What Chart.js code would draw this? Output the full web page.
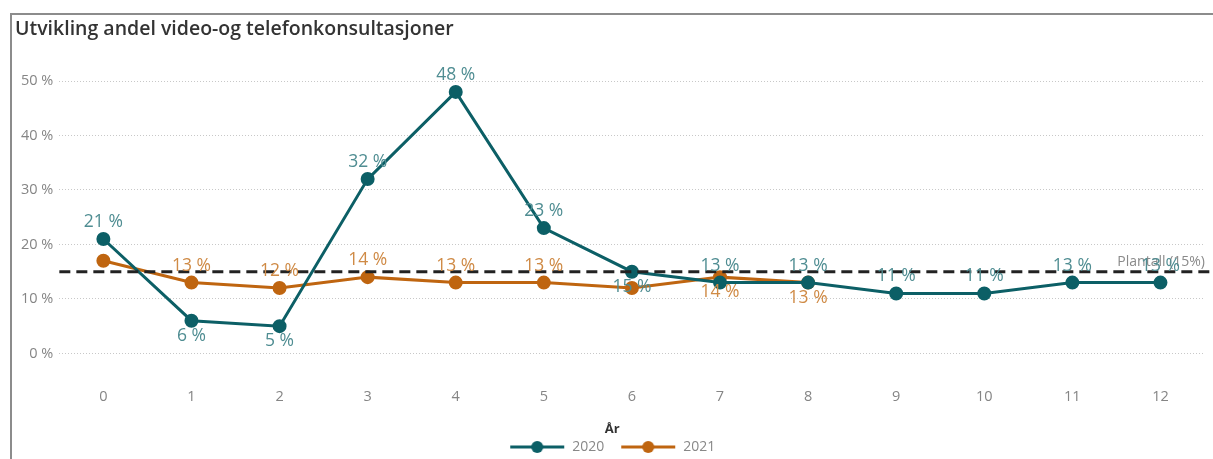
<!DOCTYPE html>
<html>

<head>
    <title>Utvikling andel video- og telefonkonsultasjoner</title>
    <script src="https://cdn.jsdelivr.net/npm/chart.js"></script>
    <style>
        body { margin: 0; background: #fff; }
        #frame {
            position: absolute; left: 10px; top: 13px; width: 1260px; height: 500px;
            border: 2px solid #8c8c8c; pointer-events: none;
        }
        #myChart { position: absolute; left: 0; top: 0; }
    </style>
</head>

<body>

    <canvas id="myChart" width="1213" height="459"></canvas>
    <div id="frame"></div>

    <script>
        // periods on the x axis
        var periods = ['0', '1', '2', '3', '4', '5', '6', '7', '8', '9', '10', '11', '12'];
        // share of video/phone consultations, percent
        var values2020 = [21, 6, 5, 32, 48, 23, 15, 13, 13, 11, 11, 13, 13];
        var values2021 = [17, 13, 12, 14, 13, 13, 12, 14, 13];
        var yTicks = [0, 10, 20, 30, 40, 50];
        var plantall = 15;

        var teal = '#0c5f66';
        var orange = '#bf6510';
        var font = '"Open Sans", sans-serif';

        // little line-with-dot swatch for the legend
        function legendSwatch(color) {
            var c = document.createElement('canvas');
            c.width = 56; c.height = 14;
            var g = c.getContext('2d');
            g.strokeStyle = color; g.lineWidth = 3;
            g.beginPath(); g.moveTo(1, 7); g.lineTo(55, 7); g.stroke();
            g.fillStyle = color;
            g.beginPath(); g.arc(28, 7, 6, 0, Math.PI * 2); g.fill();
            return c;
        }

        // dashed target line with its caption
        var targetLine = {
            id: 'targetLine',
            afterDatasetsDraw(chart) {
                var ctx = chart.ctx;
                var area = chart.chartArea;
                var y = chart.scales.y.getPixelForValue(plantall);
                ctx.save();
                ctx.strokeStyle = '#222';
                ctx.lineWidth = 3;
                ctx.setLineDash([11, 6]);
                ctx.beginPath();
                ctx.moveTo(area.left, y);
                ctx.lineTo(chart.width, y);
                ctx.stroke();
                ctx.setLineDash([]);
                ctx.fillStyle = '#8a8a8a';
                ctx.font = '14px ' + font;
                ctx.textAlign = 'right';
                ctx.textBaseline = 'bottom';
                ctx.fillText('Plantall (' + plantall + '%)', chart.width - 8, y - 3);
                ctx.restore();
            }
        };

        // value labels next to each point
        var pointLabels = {
            id: 'pointLabels',
            afterDatasetsDraw(chart) {
                var ctx = chart.ctx;
                ctx.save();
                ctx.font = '17.5px ' + font;
                ctx.textAlign = 'center';
                ctx.textBaseline = 'middle';
                chart.data.datasets.forEach(function (ds, di) {
                    var meta = chart.getDatasetMeta(di);
                    ctx.fillStyle = ds.labelColor;
                    meta.data.forEach(function (pt, i) {
                        if (ds.hideLabels.indexOf(i) >= 0) return;
                        var below = ds.labelsBelow.indexOf(i) >= 0;
                        ctx.fillText(ds.data[i] + ' %', pt.x, pt.y + (below ? 15 : -17));
                    });
                });
                ctx.restore();
            }
        };

        var ctx = document.getElementById('myChart').getContext('2d');
        var myChart = new Chart(ctx, {
            type: 'line',
            data: {
                labels: periods,
                datasets: [{
                    label: '2020',
                    data: values2020,
                    borderColor: teal,
                    backgroundColor: teal,
                    borderWidth: 3,
                    pointRadius: 5.5,
                    pointHoverRadius: 5.5,
                    labelColor: '#4f8d92',
                    labelsBelow: [1, 2, 6],
                    hideLabels: []
                }, {
                    label: '2021',
                    data: values2021,
                    borderColor: orange,
                    backgroundColor: orange,
                    borderWidth: 3,
                    pointRadius: 5.5,
                    pointHoverRadius: 5.5,
                    labelColor: '#cf8a45',
                    labelsBelow: [7, 8],
                    hideLabels: [0, 6]
                }]
            },
            options: {
                responsive: false,
                animation: false,
                layout: { padding: { left: 15, right: 3.5, top: 0, bottom: -5 } },
                scales: {
                    x: {
                        offset: true,
                        // invisible tick marks keep the labels well below the plot
                        grid: { display: true, color: 'transparent', drawOnChartArea: false, tickLength: 35 },
                        border: { display: false },
                        ticks: { color: '#858585', font: { family: font, size: 14.5 }, padding: 0 },
                        afterFit: function (axis) {
                            axis.height = 65;
                            axis.paddingLeft = 0;
                            axis.paddingRight = 0;
                        }
                    },
                    y: {
                        min: 0,
                        max: 50,
                        afterBuildTicks: function (axis) {
                            axis.ticks = yTicks.map(function (v) { return { value: v }; });
                        },
                        grid: { color: '#c8c8c8', lineWidth: 1, drawTicks: false },
                        border: { display: false, dash: [1, 2] },
                        ticks: {
                            color: '#858585',
                            font: { family: font, size: 14.5 },
                            padding: 6,
                            callback: function (v) { return v + ' %'; }
                        }
                    }
                },
                plugins: {
                    title: {
                        display: true,
                        text: 'Utvikling andel video-og telefonkonsultasjoner',
                        align: 'start',
                        color: '#333',
                        font: { family: font, size: 19.5, weight: '600' },
                        padding: { top: 18, bottom: 39.6 }
                    },
                    legend: {
                        position: 'bottom',
                        title: {
                            display: true,
                            text: 'År',
                            color: '#333',
                            font: { family: font, size: 13, weight: 'bold' },
                            padding: { top: 4, bottom: -14 }
                        },
                        labels: {
                            usePointStyle: true,
                            pointStyleWidth: 56,
                            color: '#888',
                            font: { family: font, size: 14 },
                            padding: 16,
                            generateLabels: function (chart) {
                                return chart.data.datasets.map(function (ds, i) {
                                    return {
                                        text: ds.label,
                                        fontColor: '#888',
                                        pointStyle: legendSwatch(ds.borderColor),
                                        lineWidth: 0,
                                        strokeStyle: 'transparent',
                                        fillStyle: ds.borderColor,
                                        datasetIndex: i
                                    };
                                });
                            }
                        }
                    },
                    tooltip: { enabled: false }
                }
            },
            plugins: [targetLine, pointLabels]
        });
    </script>

</body>

</html>
